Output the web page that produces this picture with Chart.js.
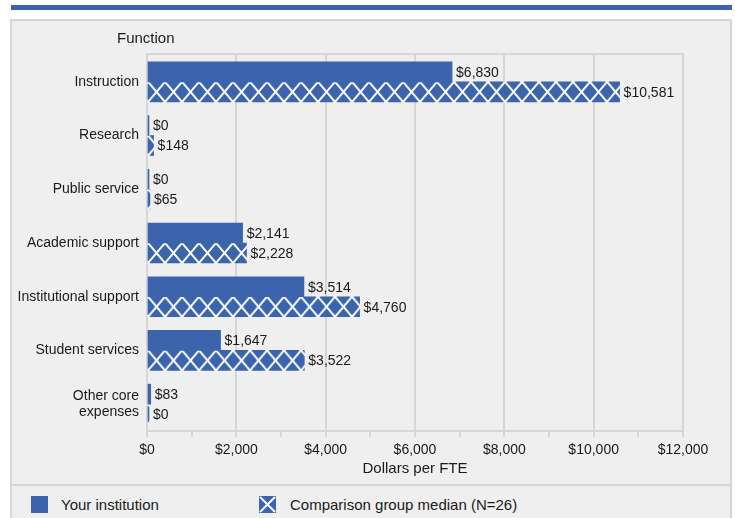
<!DOCTYPE html>
<html>
<head>
<meta charset="utf-8">
<script src="https://cdn.jsdelivr.net/npm/chart.js@4.4.1/dist/chart.umd.min.js"></script>
<style>
  html, body { margin: 0; padding: 0; background: #fff; }
  body { width: 735px; height: 518px; position: relative; overflow: hidden; font-family: "Liberation Sans", Arial, sans-serif; }
  .topbar { position: absolute; left: 11px; top: 5px; width: 721px; height: 5px; background: #3B64AD; }
  .frame { position: absolute; left: 10px; top: 19px; width: 722px; height: 520px; box-sizing: border-box;
           border: 2px solid #d6d6d6; background: #efefef; }
  .chartbox { position: absolute; left: 0; top: 0; width: 718px; height: 463px; }
  .sep { position: absolute; left: 0; top: 463px; width: 718px; height: 2px; background: #d6d6d6; }
  .leg { position: absolute; top: 474px; height: 18px; display: flex; align-items: center; font-size: 15px; color: #1a1a1a; }
  .leg svg { margin-right: 13px; }
</style>
</head>
<body>
<div class="topbar"></div>
<div class="frame">
  <div class="chartbox"><canvas id="spendChart"></canvas></div>
  <div class="sep"></div>
  <div class="leg" style="left:19px">
    <svg width="17" height="17"><rect width="17" height="17" fill="#3B64AD"/></svg>Your institution
  </div>
  <div class="leg" style="left:247px">
    <svg width="17" height="17" style="margin-right:14px"><rect width="17" height="17" fill="#3B64AD"/>
      <path d="M1 1L16 16M16 1L1 16" stroke="#fff" stroke-width="2"/></svg>Comparison group median (N=26)
  </div>
</div>
<script>
// categories + values
const functions = ['Instruction', 'Research', 'Public service', 'Academic support',
  'Institutional support', 'Student services', ['Other core', 'expenses']];
const yourInstitution = [6830, 0, 0, 2141, 3514, 1647, 83];
const comparisonMedian = [10581, 148, 65, 2228, 4760, 3522, 0];
const seriesNames = ['Your institution', 'Comparison group median (N=26)'];

const BLUE = '#3B64AD';
const BAR_H = 20;
const FONT = '"Liberation Sans", Arial, sans-serif';
const TEXT = '#1a1a1a';

// X hatch tile, shifted so every bar gets the same phase
function hatch(ctx, top) {
  const c = document.createElement('canvas');
  c.width = 17; c.height = BAR_H;
  const g = c.getContext('2d');
  g.fillStyle = BLUE;
  g.fillRect(0, 0, c.width, c.height);
  g.strokeStyle = '#fff';
  g.lineWidth = 2;
  g.beginPath();
  g.moveTo(0, 0); g.lineTo(c.width, c.height);
  g.moveTo(c.width, 0); g.lineTo(0, c.height);
  g.stroke();
  const p = ctx.createPattern(c, 'repeat');
  if (p.setTransform) p.setTransform(new DOMMatrix().translate(0, top));
  return p;
}

const extras = {
  id: 'extras',
  afterDraw(chart) {
    const ctx = chart.ctx;
    const area = chart.chartArea;
    ctx.save();
    // box top line
    ctx.strokeStyle = '#d6d6d6';
    ctx.lineWidth = 2;
    ctx.beginPath();
    ctx.moveTo(area.left - 1, area.top - 1);
    ctx.lineTo(area.right + 1, area.top - 1);
    ctx.stroke();
    // "Function" heading
    ctx.font = '15px ' + FONT;
    ctx.fillStyle = TEXT;
    ctx.textBaseline = 'middle';
    ctx.textAlign = 'left';
    ctx.fillText('Function', area.left - 30, 18);
    // value labels
    ctx.font = '14px ' + FONT;
    chart.data.datasets.forEach(function(ds, di) {
      chart.getDatasetMeta(di).data.forEach(function(bar, i) {
        const v = ds.data[i];
        ctx.fillText('$' + v.toLocaleString('en-US'), bar.x + 4, bar.y + 1);
      });
    });
    ctx.restore();
  }
};

new Chart(document.getElementById('spendChart'), {
  type: 'bar',
  data: {
    labels: functions,
    datasets: [{
      label: seriesNames[0],
      data: yourInstitution,
      backgroundColor: BLUE,
      minBarLength: 2
    }, {
      label: seriesNames[1],
      data: comparisonMedian,
      minBarLength: 2,
      backgroundColor: function(c) {
        const y = c.chart.scales.y;
        if (!y || c.dataIndex === undefined) return BLUE;
        return hatch(c.chart.ctx, y.getPixelForValue(c.dataIndex));
      }
    }]
  },
  options: {
    indexAxis: 'y',
    responsive: true,
    maintainAspectRatio: false,
    animation: false,
    layout: { padding: { top: 34, right: 47, left: 0, bottom: 0 } },
    datasets: { bar: { barThickness: BAR_H, borderWidth: 0 } },
    plugins: {
      legend: { display: false },
      tooltip: { enabled: false }
    },
    scales: {
      x: {
        min: 0,
        max: 12000,
        afterFit: function(s) { s.height = 53; },
        ticks: {
          stepSize: 1000,
          autoSkip: false,
          maxRotation: 0,
          padding: 5,
          color: TEXT,
          font: { family: FONT, size: 14 },
          callback: function(v) { return v % 2000 === 0 ? '$' + v.toLocaleString('en-US') : ''; }
        },
        grid: {
          lineWidth: 2,
          tickLength: 6,
          color: function(c) { return c.tick && c.tick.value % 2000 === 0 ? '#d6d6d6' : 'rgba(0,0,0,0)'; },
          tickColor: '#d6d6d6'
        },
        border: { color: '#d6d6d6', width: 2 },
        title: {
          display: true,
          text: 'Dollars per FTE',
          color: TEXT,
          font: { family: FONT, size: 15 },
          padding: { top: 0, bottom: 6 }
        }
      },
      y: {
        afterFit: function(s) { s.width = 135; },
        grid: { display: false, drawTicks: false },
        border: { display: false },
        ticks: {
          padding: 8,
          color: TEXT,
          font: { family: FONT, size: 14, lineHeight: 1.1 }
        }
      }
    }
  },
  plugins: [extras]
});
</script>
</body>
</html>
